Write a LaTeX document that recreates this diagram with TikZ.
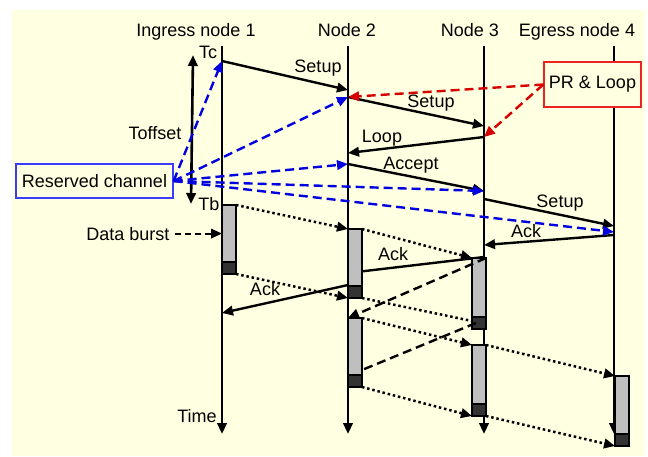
\documentclass[tikz,border=0pt]{standalone}
\usepackage{fontspec}
\setmainfont{Liberation Sans}
\usetikzlibrary{arrows.meta}
\definecolor{cream}{RGB}{255,255,225}
\definecolor{resblue}{RGB}{0,0,225}
\definecolor{boxblue}{RGB}{60,60,255}
\definecolor{prred}{RGB}{215,0,0}
\definecolor{boxred}{RGB}{235,35,35}

\begin{document}
\begin{tikzpicture}[
  x=1pt, y=-1pt,
  font=\fontsize{18}{21}\selectfont,
  >={Triangle[length=11pt,width=9.5pt]},
  lbl/.style={anchor=base, inner sep=0pt},
  life/.style={->, line width=2.6pt, black},
  msg/.style={->, line width=2.4pt, black},
  resv/.style={->, line width=2.4pt, resblue, dash pattern=on 9pt off 5pt},
  prl/.style={->, line width=2.4pt, prred, dash pattern=on 9pt off 5pt},
  loopd/.style={line width=2.4pt, black, dash pattern=on 9pt off 5pt},
  dots/.style={line width=2.5pt, black, dash pattern=on 2.5pt off 2.8pt},
  burst/.style={
    draw=black, line width=1.4pt, fill=black!25,
    minimum width=14pt, minimum height=57pt,
    inner sep=0pt, outer sep=0pt
  },
  tail/.style={
    draw=black, line width=1.4pt, fill=black!80,
    minimum width=14pt, minimum height=12pt,
    inner sep=0pt, outer sep=0pt, anchor=north
  },
  tagbox/.style={draw, line width=1.3pt, fill=cream, inner sep=0pt}
]
\useasboundingbox (0,0) rectangle (648,456);
\fill[cream] (12,10) rectangle (645,456);

% Titles --- four nodes of the path
\node[lbl] (n1) at (196,36) {Ingress node 1};
\node[lbl] (n2) at (347,36) {Node 2};
\node[lbl] (n3) at (470,36) {Node 3};
\node[lbl] (n4) at (577,36) {Egress node 4};

% Time axes
\coordinate (top1) at (222,46);
\coordinate (top2) at (348,46);
\coordinate (top3) at (484,46);
\coordinate (top4) at (614,46);
\coordinate (end1) at (222,434);
\coordinate (end2) at (348,434);
\coordinate (end3) at (484,434);
\coordinate (end4) at (614,434);
\draw[life] (top1) -- (end1);
\draw[life] (top2) -- (end2);
\draw[life] (top3) -- (end3);
\draw[life] (top4) -- (end4);
\node[lbl] (time) at (197,422) {Time};

% Events on the axes
\coordinate (tc) at (222,61);
\coordinate (s1) at (348,90);
\coordinate (p2) at (348,97);
\coordinate (s2) at (484,126);
\coordinate (p3) at (484,137);
\coordinate (lp) at (348,153);
\coordinate (ac) at (348,164);
\coordinate (acd) at (484,191);
\coordinate (s3a) at (484,199);
\coordinate (s3b) at (614,226);
\coordinate (r4) at (614,232);
\coordinate (k4) at (614,235);
\coordinate (k3) at (484,245);
\coordinate (k3a) at (484,257);
\coordinate (k2) at (348,273);
\coordinate (k2a) at (348,285);
\coordinate (k1) at (222,313);

% Offset between control packet and burst
\node[lbl] (tclbl) at (208,58) {Tc};
\node[lbl] (tblbl) at (209,210) {Tb};
\coordinate (offtop) at (193,55);
\coordinate (offbot) at (191,204);
\draw[<->, line width=2.6pt] (offtop) -- (offbot);
\node[lbl] (toff) at (155,139) {Toffset};

% Control messages
\draw[msg] (tc) -- (s1);
\draw[msg] (p2) -- (s2);
\draw[msg] (p3) -- (lp);
\draw[msg] (ac) -- (acd);
\draw[msg] (s3a) -- (s3b);
\draw[msg] (k4) -- (k3);
\draw[msg] (k3a) -- (k2);
\draw[msg] (k2a) -- (k1);
\node[lbl] (lsetupa) at (318,72) {Setup};
\node[lbl] (lsetupb) at (431,107) {Setup};
\node[lbl] (lloop) at (382,142) {Loop};
\node[lbl] (laccept) at (411,169) {Accept};
\node[lbl] (lsetupc) at (560,207) {Setup};
\node[lbl] (lacka) at (526,237) {Ack};
\node[lbl] (lackb) at (393,260) {Ack};
\node[lbl] (lackc) at (265,295) {Ack};

% Data bursts (body and tail)
\node[burst, anchor=north west] (b1) at (222,205) {};
\node[tail] (t1) at (b1.south) {};
\node[burst, anchor=north west] (b2) at (348,229) {};
\node[tail] (t2) at (b2.south) {};
\node[burst, anchor=north west] (b3) at (348,318) {};
\node[tail] (t3) at (b3.south) {};
\node[burst, anchor=north east, minimum height=59pt] (b4) at (486,258) {};
\node[tail] (t4) at (b4.south) {};
\node[burst, anchor=north east, minimum height=59pt] (b5) at (486,345) {};
\node[tail] (t5) at (b5.south) {};
\node[burst, anchor=north west, minimum height=58pt] (b6) at (615,376) {};
\node[tail] (t6) at (b6.south) {};

\node[lbl] (db) at (128,240) {Data burst};
\draw[->, line width=2pt, dash pattern=on 6pt off 4pt] ([xshift=5pt]db.east) -- (db.east -| b1.west);

\draw[dots, ->] (b1.north east) -- (b2.north west);
\draw[dots, ->] (t1.south east) -- (t2.south west);
\draw[dots, ->] (b2.north east) -- (b4.north west);
\draw[dots] (t2.south east) -- ([yshift=8pt]t4.south west);
\draw[dots, ->] (b3.north east) -- (b5.north west);
\draw[dots, ->] (t3.south east) -- (t5.south west);
\draw[dots, ->] (b5.north east) -- (b6.north west);
\draw[dots, ->] (t5.south east) -- (t6.south west);

% Looped burst back to node 2
\draw[loopd, ->] (b4.north east) -- (b3.north west);
\draw[loopd] ([xshift=4pt,yshift=6pt]t4.south west) -- ([yshift=5pt]b3.south east);

% Reserved channel and PR & Loop
\node[tagbox, draw=boxblue, minimum width=157pt, minimum height=34pt] (rc) at (94.5,181) {Reserved channel};
\draw[resv] (rc.east) -- (tc);
\draw[resv] (rc.east) -- (p2);
\draw[resv] (rc.east) -- (ac);
\draw[resv] (rc.east) -- (acd);
\draw[resv] (rc.east) -- (r4);

\node[tagbox, draw=boxred, minimum width=97pt, minimum height=45pt] (pr) at (592.5,84.5) {PR \& Loop};
\draw[prl] (pr.west) -- (p2);
\draw[prl] (pr.west) -- (p3);
\end{tikzpicture}
\end{document}
